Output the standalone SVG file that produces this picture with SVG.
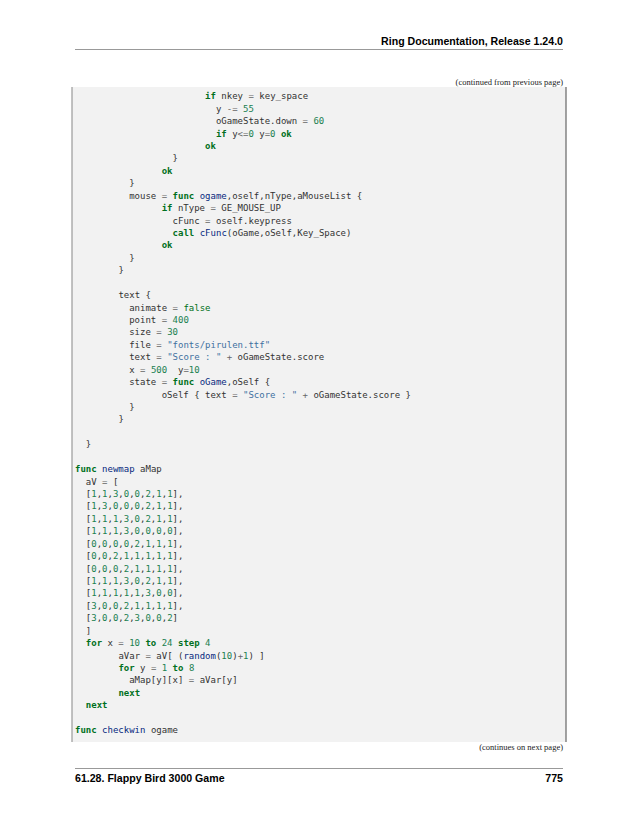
<svg xmlns="http://www.w3.org/2000/svg" width="638" height="825" viewBox="0 0 638 825">
<style>
.c{font-family:"DejaVu Sans Mono",monospace;font-size:9px;fill:#333}
.k{fill:#007020;font-weight:bold}
.b{fill:#007020}
.n{fill:#208050}
.s{fill:#4070a0}
.f{fill:#06287e}
.o{fill:#666}
.h{font-family:"Liberation Sans",Arial,sans-serif;font-weight:bold;font-size:10.6px;fill:#000}
.cap{font-family:"Liberation Serif",serif;font-size:8.5px;fill:#222}
</style>
<rect width="638" height="825" fill="#fff"/>
<g id="header">
<text class="h" x="563" y="45" text-anchor="end">Ring Documentation, Release 1.24.0</text>
<line x1="75" y1="49.5" x2="563" y2="49.5" stroke="#999" stroke-width="1"/>
<text class="cap" x="563" y="85" text-anchor="end">(continued from previous page)</text>
</g>
<g id="codebox">
<rect x="72" y="87" width="494" height="655" fill="#f2f2f2"/>
<line x1="72" y1="87" x2="72" y2="742" stroke="#999" stroke-width="1.2"/>
<line x1="566" y1="87" x2="566" y2="742" stroke="#666" stroke-width="1.2"/>
</g>
<g id="code" class="c">
<text x="205.1" y="99.2"><tspan class="k">if</tspan> nkey <tspan class="o">=</tspan> key_space</text>
<text x="215.9" y="111.6">y <tspan class="o">-=</tspan> <tspan class="n">55</tspan></text>
<text x="215.9" y="124.1">oGameState.down <tspan class="o">=</tspan> <tspan class="n">60</tspan></text>
<text x="215.9" y="136.5"><tspan class="k">if</tspan> y<tspan class="o">&lt;=</tspan><tspan class="n">0</tspan> y<tspan class="o">=</tspan><tspan class="n">0</tspan> <tspan class="k">ok</tspan></text>
<text x="205.1" y="148.9"><tspan class="k">ok</tspan></text>
<text x="172.6" y="161.4">}</text>
<text x="161.7" y="173.8"><tspan class="k">ok</tspan></text>
<text x="129.2" y="186.2">}</text>
<text x="129.2" y="198.6">mouse <tspan class="o">=</tspan> <tspan class="k">func</tspan> <tspan class="f">ogame</tspan>,oself,nType,aMouseList {</text>
<text x="161.7" y="211.1"><tspan class="k">if</tspan> nType <tspan class="o">=</tspan> GE_MOUSE_UP</text>
<text x="172.6" y="223.5">cFunc <tspan class="o">=</tspan> oself.keypress</text>
<text x="172.6" y="235.9"><tspan class="k">call</tspan> <tspan class="f">cFunc</tspan>(oGame,oSelf,Key_Space)</text>
<text x="161.7" y="248.4"><tspan class="k">ok</tspan></text>
<text x="129.2" y="260.8">}</text>
<text x="118.4" y="273.2">}</text>
<text x="118.4" y="298.1">text {</text>
<text x="129.2" y="310.5">animate <tspan class="o">=</tspan> <tspan class="b">false</tspan></text>
<text x="129.2" y="322.9">point <tspan class="o">=</tspan> <tspan class="n">400</tspan></text>
<text x="129.2" y="335.4">size <tspan class="o">=</tspan> <tspan class="n">30</tspan></text>
<text x="129.2" y="347.8">file <tspan class="o">=</tspan> <tspan class="s">"fonts/pirulen.ttf"</tspan></text>
<text x="129.2" y="360.2">text <tspan class="o">=</tspan> <tspan class="s">"Score : "</tspan> <tspan class="o">+</tspan> oGameState.score</text>
<text x="129.2" y="372.7" xml:space="preserve">x <tspan class="o">=</tspan> <tspan class="n">500</tspan>  y<tspan class="o">=</tspan><tspan class="n">10</tspan></text>
<text x="129.2" y="385.1">state <tspan class="o">=</tspan> <tspan class="k">func</tspan> <tspan class="f">oGame</tspan>,oSelf {</text>
<text x="161.7" y="397.5">oSelf { text <tspan class="o">=</tspan> <tspan class="s">"Score : "</tspan> <tspan class="o">+</tspan> oGameState.score }</text>
<text x="129.2" y="409.9">}</text>
<text x="118.4" y="422.4">}</text>
<text x="85.8" y="447.2">}</text>
<text x="75" y="472.1"><tspan class="k">func</tspan> <tspan class="f">newmap</tspan> aMap</text>
<text x="85.8" y="484.5">aV <tspan class="o">=</tspan> [</text>
<text x="85.8" y="496.9">[<tspan class="n">1</tspan>,<tspan class="n">1</tspan>,<tspan class="n">3</tspan>,<tspan class="n">0</tspan>,<tspan class="n">0</tspan>,<tspan class="n">2</tspan>,<tspan class="n">1</tspan>,<tspan class="n">1</tspan>],</text>
<text x="85.8" y="509.4">[<tspan class="n">1</tspan>,<tspan class="n">3</tspan>,<tspan class="n">0</tspan>,<tspan class="n">0</tspan>,<tspan class="n">0</tspan>,<tspan class="n">2</tspan>,<tspan class="n">1</tspan>,<tspan class="n">1</tspan>],</text>
<text x="85.8" y="521.8">[<tspan class="n">1</tspan>,<tspan class="n">1</tspan>,<tspan class="n">1</tspan>,<tspan class="n">3</tspan>,<tspan class="n">0</tspan>,<tspan class="n">2</tspan>,<tspan class="n">1</tspan>,<tspan class="n">1</tspan>],</text>
<text x="85.8" y="534.2">[<tspan class="n">1</tspan>,<tspan class="n">1</tspan>,<tspan class="n">1</tspan>,<tspan class="n">3</tspan>,<tspan class="n">0</tspan>,<tspan class="n">0</tspan>,<tspan class="n">0</tspan>,<tspan class="n">0</tspan>],</text>
<text x="85.8" y="546.7">[<tspan class="n">0</tspan>,<tspan class="n">0</tspan>,<tspan class="n">0</tspan>,<tspan class="n">0</tspan>,<tspan class="n">2</tspan>,<tspan class="n">1</tspan>,<tspan class="n">1</tspan>,<tspan class="n">1</tspan>],</text>
<text x="85.8" y="559.1">[<tspan class="n">0</tspan>,<tspan class="n">0</tspan>,<tspan class="n">2</tspan>,<tspan class="n">1</tspan>,<tspan class="n">1</tspan>,<tspan class="n">1</tspan>,<tspan class="n">1</tspan>,<tspan class="n">1</tspan>],</text>
<text x="85.8" y="571.5">[<tspan class="n">0</tspan>,<tspan class="n">0</tspan>,<tspan class="n">0</tspan>,<tspan class="n">2</tspan>,<tspan class="n">1</tspan>,<tspan class="n">1</tspan>,<tspan class="n">1</tspan>,<tspan class="n">1</tspan>],</text>
<text x="85.8" y="583.9">[<tspan class="n">1</tspan>,<tspan class="n">1</tspan>,<tspan class="n">1</tspan>,<tspan class="n">3</tspan>,<tspan class="n">0</tspan>,<tspan class="n">2</tspan>,<tspan class="n">1</tspan>,<tspan class="n">1</tspan>],</text>
<text x="85.8" y="596.4">[<tspan class="n">1</tspan>,<tspan class="n">1</tspan>,<tspan class="n">1</tspan>,<tspan class="n">1</tspan>,<tspan class="n">1</tspan>,<tspan class="n">3</tspan>,<tspan class="n">0</tspan>,<tspan class="n">0</tspan>],</text>
<text x="85.8" y="608.8">[<tspan class="n">3</tspan>,<tspan class="n">0</tspan>,<tspan class="n">0</tspan>,<tspan class="n">2</tspan>,<tspan class="n">1</tspan>,<tspan class="n">1</tspan>,<tspan class="n">1</tspan>,<tspan class="n">1</tspan>],</text>
<text x="85.8" y="621.2">[<tspan class="n">3</tspan>,<tspan class="n">0</tspan>,<tspan class="n">0</tspan>,<tspan class="n">2</tspan>,<tspan class="n">3</tspan>,<tspan class="n">0</tspan>,<tspan class="n">0</tspan>,<tspan class="n">2</tspan>]</text>
<text x="85.8" y="633.7">]</text>
<text x="85.8" y="646.1"><tspan class="k">for</tspan> x <tspan class="o">=</tspan> <tspan class="n">10</tspan> <tspan class="k">to</tspan> <tspan class="n">24</tspan> <tspan class="k">step</tspan> <tspan class="n">4</tspan></text>
<text x="118.4" y="658.5">aVar <tspan class="o">=</tspan> aV[ (<tspan class="f">random</tspan>(<tspan class="n">10</tspan>)<tspan class="o">+</tspan><tspan class="n">1</tspan>) ]</text>
<text x="118.4" y="671"><tspan class="k">for</tspan> y <tspan class="o">=</tspan> <tspan class="n">1</tspan> <tspan class="k">to</tspan> <tspan class="n">8</tspan></text>
<text x="129.2" y="683.4">aMap[y][x] <tspan class="o">=</tspan> aVar[y]</text>
<text x="118.4" y="695.8"><tspan class="k">next</tspan></text>
<text x="85.8" y="708.2"><tspan class="k">next</tspan></text>
<text x="75" y="733.1"><tspan class="k">func</tspan> <tspan class="f">checkwin</tspan> ogame</text>
</g>
<g id="footer">
<text class="cap" x="563" y="750" text-anchor="end">(continues on next page)</text>
<line x1="75" y1="768.5" x2="563" y2="768.5" stroke="#999" stroke-width="1"/>
<text class="h" x="75" y="782">61.28.  Flappy Bird 3000 Game</text>
<text class="h" x="563" y="782" text-anchor="end">775</text>
</g>
</svg>
